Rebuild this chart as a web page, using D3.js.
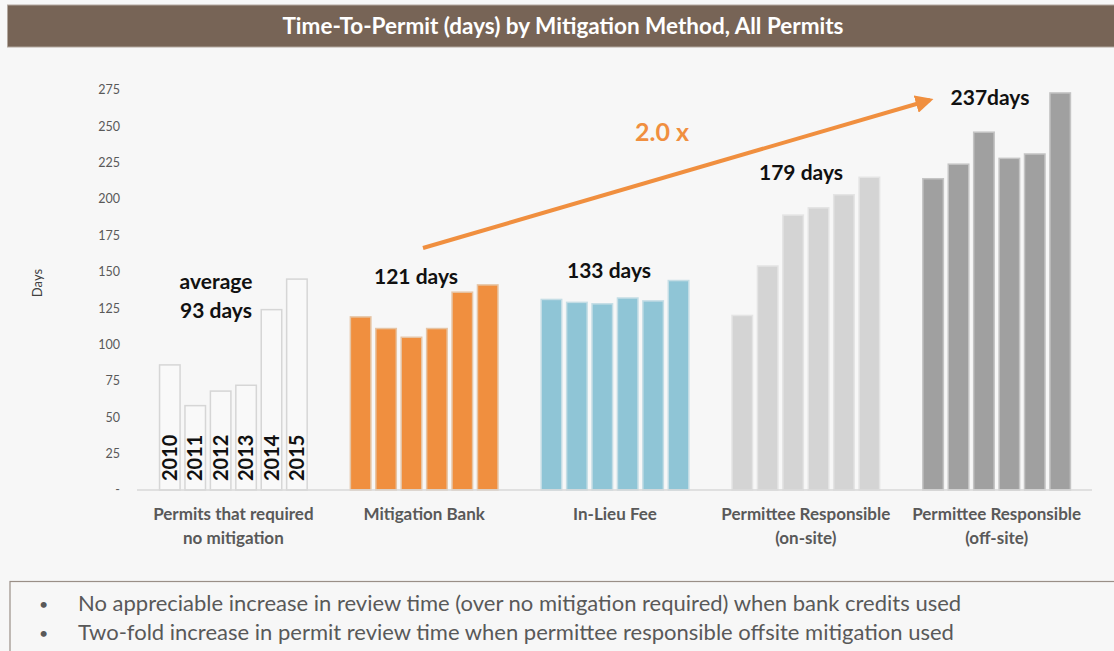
<!DOCTYPE html>
<html>
<head>
<meta charset="utf-8">
<script src="https://cdn.jsdelivr.net/npm/d3@7"></script>
<style>
  body { margin: 0; background: #f7f7f7; }
  svg { display: block; font-family: Lato, "Open Sans", sans-serif; }
</style>
</head>
<body>
<svg id="chart" width="1114" height="651"></svg>
<script>
// chart data
var groups = ["Permits that required|no mitigation", "Mitigation Bank", "In-Lieu Fee",
              "Permittee Responsible|(on-site)", "Permittee Responsible|(off-site)"];
var years = ["2010", "2011", "2012", "2013", "2014", "2015"];
var noMitigation = [86, 58, 68, 72, 124, 145];
var mitigationBank = [119, 111, 105, 111, 136, 141];
var inLieuFee = [131, 129, 128, 132, 130, 144];
var prOnSite = [120, 154, 189, 194, 203, 215];
var prOffSite = [214, 224, 246, 228, 231, 273];
var yTicks = [0, 25, 50, 75, 100, 125, 150, 175, 200, 225, 250, 275];
var averages = ["average|93 days", "121 days", "133 days", "179 days", "237days"];
var notes = ["No appreciable increase in review time (over no mitigation required) when bank credits used",
             "Two-fold increase in permit review time when permittee responsible offsite mitigation used"];

var series = [noMitigation, mitigationBank, inLieuFee, prOnSite, prOffSite];
var fills = ["#f9f9f9", "#f08f3f", "#8fc5d6", "#d4d4d4", "#a0a0a0"];
var strokes = ["#d6d6d6", "#e6c4a4", "#c4dde5", "#e4e4e4", "#c4c4c4"];

var svg = d3.select("#chart");

// title bar
svg.append("rect")
    .attr("x", 7.5).attr("y", 5).attr("width", 1110).attr("height", 42)
    .attr("fill", "#776456").attr("stroke", "#b3a89f").attr("stroke-width", 1);
svg.append("text")
    .attr("x", 563).attr("y", 34)
    .attr("text-anchor", "middle")
    .attr("fill", "#fff")
    .style("font-size", "22.5px").style("font-weight", "bold")
    .text("Time-To-Permit (days) by Mitigation Method, All Permits");

var y = d3.scaleLinear().domain([0, 275]).range([490, 90]);

var x0 = d3.scaleBand().domain(groups).range([138, 1092])
    .paddingInner(0.2265).paddingOuter(0.113);
var x1 = d3.scaleBand().domain(years).range([0, x0.bandwidth()])
    .paddingInner(0.193).paddingOuter(0);

// y axis labels
svg.append("g").selectAll("text")
    .data(yTicks)
    .enter().append("text")
    .attr("x", 120)
    .attr("y", function(d) { return y(d); })
    .attr("dy", "0.35em")
    .attr("text-anchor", "end")
    .attr("fill", "#595959")
    .style("font-size", "12.5px")
    .text(function(d) { return d === 0 ? "-" : d; });

svg.append("text")
    .attr("transform", "translate(42,283) rotate(-90)")
    .attr("text-anchor", "middle")
    .attr("fill", "#404040")
    .style("font-size", "13px")
    .text("Days");

// bars
var gGroups = svg.append("g").selectAll("g")
    .data(groups)
    .enter().append("g")
    .attr("transform", function(d) { return "translate(" + x0(d) + ",0)"; });

gGroups.each(function(g, gi) {
    d3.select(this).selectAll("rect")
        .data(series[gi])
        .enter().append("rect")
        .attr("x", function(d, i) { return x1(years[i]); })
        .attr("y", function(d) { return y(d); })
        .attr("width", x1.bandwidth())
        .attr("height", function(d) { return y(0) - y(d); })
        .attr("fill", fills[gi])
        .attr("stroke", strokes[gi])
        .attr("stroke-width", 1.5);
});

// year labels inside the first group
svg.append("g").selectAll("text")
    .data(years)
    .enter().append("text")
    .attr("transform", function(d) {
        return "translate(" + (x0(groups[0]) + x1(d) + x1.bandwidth() - 3) + ",481) rotate(-90)";
    })
    .attr("fill", "#111")
    .style("font-size", "20px").style("font-weight", "bold")
    .text(function(d) { return d; });

// baseline
svg.append("line")
    .attr("x1", 137).attr("x2", 1092)
    .attr("y1", y(0)).attr("y2", y(0))
    .attr("stroke", "#d9d9d9").attr("stroke-width", 1.5);

// category labels
svg.append("g").selectAll("text")
    .data(groups)
    .enter().append("text")
    .attr("x", function(d) { return x0(d) + x0.bandwidth() / 2; })
    .attr("y", 520)
    .attr("text-anchor", "middle")
    .attr("fill", "#595959")
    .style("font-size", "17px").style("font-weight", "bold")
    .each(function(d) {
        var t = d3.select(this);
        d.split("|").forEach(function(line, i) {
            t.append("tspan")
                .attr("x", x0(d) + x0.bandwidth() / 2)
                .attr("dy", i === 0 ? 0 : 24)
                .text(line);
        });
    });

// average labels, placed just above each group
var avgX = [216, 416, 609, 801, 990];
var avgY = [289, 284, 278, 180, 105];
svg.append("g").selectAll("text")
    .data(averages)
    .enter().append("text")
    .attr("x", function(d, i) { return avgX[i]; })
    .attr("y", function(d, i) { return avgY[i]; })
    .attr("text-anchor", "middle")
    .attr("fill", "#111")
    .style("font-size", "21px").style("font-weight", "bold")
    .each(function(d, i) {
        var t = d3.select(this);
        d.split("|").forEach(function(line, j) {
            t.append("tspan")
                .attr("x", avgX[i])
                .attr("dy", j === 0 ? 0 : 29)
                .text(line);
        });
    });

// 2x arrow
svg.append("defs").append("marker")
    .attr("id", "head")
    .attr("viewBox", "0 -5 10 10")
    .attr("refX", 8).attr("refY", 0)
    .attr("markerWidth", 4.5).attr("markerHeight", 4.5)
    .attr("orient", "auto")
    .append("path")
    .attr("d", "M0,-5L10,0L0,5Z")
    .attr("fill", "#f08f3f");

svg.append("line")
    .attr("x1", 423).attr("y1", 248)
    .attr("x2", 930).attr("y2", 100)
    .attr("stroke", "#f08f3f").attr("stroke-width", 4)
    .attr("marker-end", "url(#head)");

svg.append("text")
    .attr("x", 662).attr("y", 141)
    .attr("text-anchor", "middle")
    .attr("fill", "#f08f3f")
    .style("font-size", "25px").style("font-weight", "bold")
    .text("2.0 x");

// notes box
svg.append("rect")
    .attr("x", 10).attr("y", 581.5).attr("width", 1110).attr("height", 80)
    .attr("fill", "#f7f7f7").attr("stroke", "#9a8f87").attr("stroke-width", 1.2);

var noteG = svg.append("g").selectAll("g")
    .data(notes)
    .enter().append("g")
    .attr("transform", function(d, i) { return "translate(0," + (611 + i * 29) + ")"; });
noteG.append("text")
    .attr("x", 39).attr("y", -1)
    .attr("fill", "#595959")
    .style("font-size", "16px")
    .text("\u2022");
noteG.append("text")
    .attr("x", 78).attr("y", 0)
    .attr("fill", "#595959")
    .style("font-size", "22px")
    .text(function(d) { return d; });
</script>
</body>
</html>
